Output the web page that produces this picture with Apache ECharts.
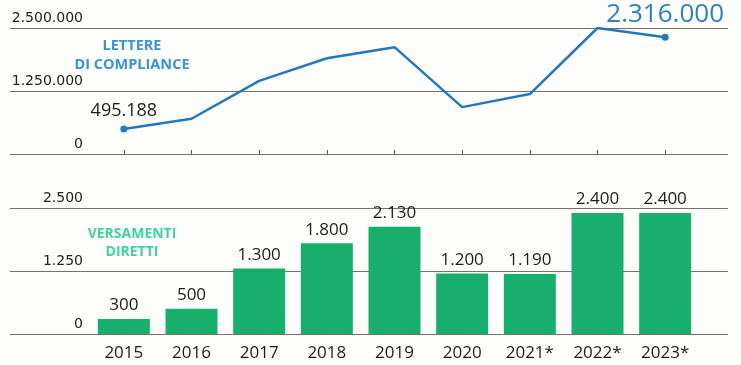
<!DOCTYPE html>
<html>
<head>
<meta charset="utf-8">
<script src="https://cdn.jsdelivr.net/npm/echarts@6/dist/echarts.min.js"></script>
<style>
html,body{margin:0;padding:0;background:#fdfdfb;}
#c{width:741px;height:365px;}
</style>
</head>
<body>
<div id="c"></div>
<script>
const years = ['2015','2016','2017','2018','2019','2020','2021*','2022*','2023*'];
const lettere = [495188, 700000, 1450000, 1900000, 2120000, 930000, 1190000, 2500000, 2316000];
const versamenti = [300, 500, 1300, 1800, 2130, 1200, 1190, 2400, 2400];
const topTicks = [0, 1250000, 2500000];
const bottomTicks = [0, 1250, 2500];

function dots(v){ return String(Math.round(v)).replace(/\B(?=(\d{3})+(?!\d))/g, '.'); }

const FONT = '"Open Sans", sans-serif';
const AXFONT = '"DejaVu Sans", sans-serif';
const gridColor = '#777265';
const last = lettere.length - 1;

const chart = echarts.init(document.getElementById('c'));
chart.setOption({
  backgroundColor: '#fdfdfb',
  animation: false,
  textStyle: { fontFamily: FONT },
  title: [
    { text: 'LETTERE\nDI COMPLIANCE', left: 127, top: 31, textAlign: 'center',
      textStyle: { color: '#3a93d6', fontSize: 14.5, fontWeight: 'bold', lineHeight: 19, fontFamily: FONT } },
    { text: 'VERSAMENTI\nDIRETTI', left: 127, top: 220, textAlign: 'center',
      textStyle: { color: '#3fd3a0', fontSize: 14, fontWeight: 'bold', lineHeight: 18, fontFamily: FONT } }
  ],
  grid: [
    { left: 10, right: 13, top: 28, height: 126 },
    { left: 90, right: 42, top: 28, height: 126 },
    { left: 10, right: 13, top: 208, height: 126 },
    { left: 90, right: 42, top: 208, height: 126 }
  ],
  xAxis: [
    { gridIndex: 0, type: 'value', show: false },
    { gridIndex: 1, type: 'category', data: years,
      axisLine: { show: false },
      axisTick: { show: true, inside: true, length: 4, alignWithLabel: true, lineStyle: { color: '#555' } },
      axisLabel: { show: false } },
    { gridIndex: 2, type: 'value', show: false },
    { gridIndex: 3, type: 'category', data: years,
      axisLine: { show: false }, axisTick: { show: false },
      axisLabel: { show: true, margin: 11, color: '#1c1c1c', fontSize: 17, fontFamily: FONT } }
  ],
  yAxis: [
    { gridIndex: 0, type: 'value', min: topTicks[0], max: topTicks[2], interval: topTicks[1],
      axisLine: { show: false }, axisTick: { show: false },
      splitLine: { show: true, lineStyle: { color: gridColor, width: 1 } },
      axisLabel: { inside: true, align: 'right', margin: 73, verticalAlign: 'bottom', padding: [0,0,3,0],
        color: '#222', fontSize: 14, fontFamily: AXFONT, formatter: v => dots(v) } },
    { gridIndex: 1, type: 'value', min: topTicks[0], max: topTicks[2], show: false },
    { gridIndex: 2, type: 'value', min: bottomTicks[0], max: bottomTicks[2], interval: bottomTicks[1],
      axisLine: { show: false }, axisTick: { show: false },
      splitLine: { show: true, lineStyle: { color: gridColor, width: 1 } },
      axisLabel: { inside: true, align: 'right', margin: 73, verticalAlign: 'bottom', padding: [0,0,3,0],
        color: '#222', fontSize: 14, fontFamily: AXFONT, formatter: v => dots(v) } },
    { gridIndex: 3, type: 'value', min: bottomTicks[0], max: bottomTicks[2], show: false }
  ],
  series: [
    { type: 'line', xAxisIndex: 1, yAxisIndex: 1,
      data: lettere.map((v, i) => {
        if (i === 0) return { value: v, label: { show: true, fontSize: 18, color: '#1c1c1c', distance: 6 } };
        if (i === last) return { value: v, label: { show: true, fontSize: 26, color: '#2b7fc2', distance: 6 } };
        return { value: v, label: { show: false } };
      }),
      lineStyle: { color: '#2178bf', width: 2.5 },
      itemStyle: { color: '#2178bf' },
      symbol: 'circle',
      symbolSize: (v, p) => (p.dataIndex === 0 || p.dataIndex === last) ? 7 : 0,
      showSymbol: true,
      label: { show: true, position: 'top', formatter: p => dots(p.value) },
      emphasis: { disabled: true }
    },
    { type: 'bar', xAxisIndex: 3, yAxisIndex: 3, data: versamenti, barWidth: 52,
      itemStyle: { color: '#18ae6b' },
      label: { show: true, position: 'top', distance: 5, color: '#1c1c1c', fontSize: 17, fontFamily: FONT,
        formatter: p => dots(p.value) },
      emphasis: { disabled: true }
    }
  ]
});
</script>
</body>
</html>
